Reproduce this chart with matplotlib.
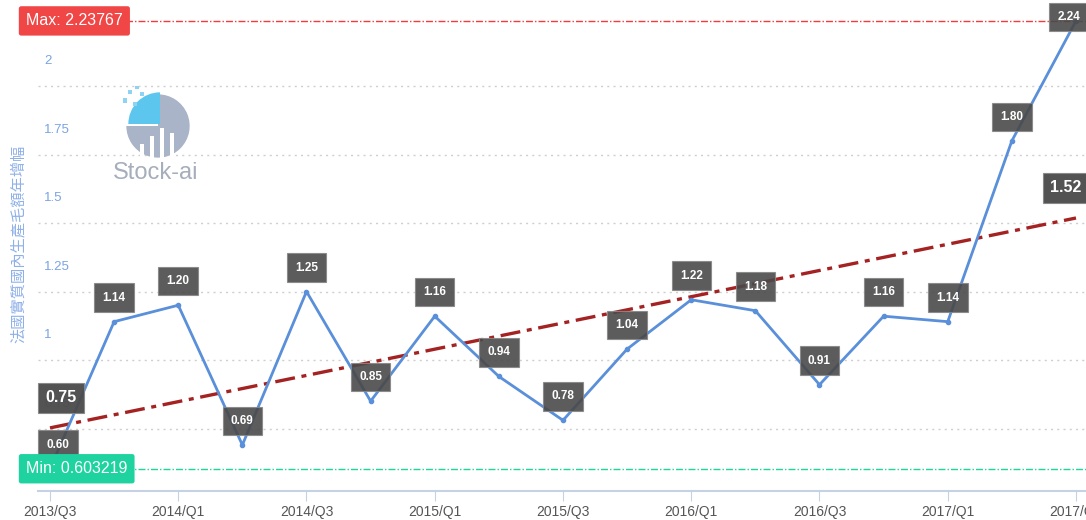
import numpy as np
import matplotlib
matplotlib.use("Agg")
import matplotlib.pyplot as plt
from matplotlib import transforms
from matplotlib.patches import Wedge, Rectangle

plt.rcParams['font.family'] = ['Liberation Sans', 'Noto Sans CJK TC']

# 資料
quarters = ["2013/Q3", "2013/Q4", "2014/Q1", "2014/Q2", "2014/Q3", "2014/Q4",
            "2015/Q1", "2015/Q2", "2015/Q3", "2015/Q4", "2016/Q1", "2016/Q2",
            "2016/Q3", "2016/Q4", "2017/Q1", "2017/Q2", "2017/Q3"]
growth = [0.603219, 1.14, 1.20, 0.69, 1.25, 0.85, 1.16, 0.94, 0.78, 1.04,
          1.22, 1.18, 0.91, 1.16, 1.14, 1.80, 2.23767]
ytick_vals = [0.75, 1.0, 1.25, 1.5, 1.75, 2.0]
ytick_labels = ["0.75", "1", "1.25", "1.5", "1.75", "2"]
ylabel = "法國實質國內生產毛額年增幅"

x = np.arange(len(quarters))
y = np.array(growth)
slope, intercept = np.polyfit(x, y, 1)
trend = slope * x + intercept
ymax, ymin = y.max(), y.min()

W, H = 1086, 520
fig = plt.figure(figsize=(W / 100, H / 100), dpi=100)
ax = fig.add_axes([38 / W, 29 / H, (W - 38) / W, 491 / H])
ax.set_xlim(-0.187, 16.156)
ax.set_ylim(0.522, 2.314)

# grid
for v in ytick_vals:
    ax.axhline(v, color='#cfcfcf', linestyle=(0, (1.5, 3)), linewidth=1, zorder=0)

# max / min lines
ax.axhline(ymax, color='#f03c3c', linestyle=(0, (5, 1.5, 1, 1.5)), linewidth=1, zorder=1)
ax.axhline(ymin, color='#20d49e', linestyle=(0, (5, 1.5, 1, 1.5)), linewidth=1, zorder=1)

# trend
ax.plot(x[[0, -1]], trend[[0, -1]], color='#a52222', linestyle=(0, (6, 2, 1.5, 2)),
        linewidth=2.4, zorder=3)

# main series
ax.plot(x, y, color='#5a8fda', linewidth=2, marker='o', markersize=3, zorder=4)

# data labels
for i, v in enumerate(y):
    if i == 0:
        off = (8, 24)
    elif i == len(y) - 1:
        off = (-7, 4)
    else:
        off = (0, 24)
    ax.annotate(f"{v:.2f}", (x[i], v), xytext=off, textcoords='offset pixels',
                ha='center', va='center', color='white', fontsize=8.5, fontweight='bold',
                bbox=dict(boxstyle='square,pad=0.7', fc='#4a4a4a', ec='#888888', lw=0.8, alpha=0.9),
                zorder=6, annotation_clip=False)

# trend end labels
for i, dx in ((0, 11), (len(x) - 1, -10)):
    ax.annotate(f"{trend[i]:.2f}", (x[i], trend[i]), xytext=(dx, 30), textcoords='offset pixels',
                ha='center', va='center', color='white', fontsize=11.5, fontweight='bold',
                bbox=dict(boxstyle='square,pad=0.45', fc='#4a4a4a', ec='#888888', lw=0.8, alpha=0.95),
                zorder=7, annotation_clip=False)

# y tick labels (drawn above the grid lines)
ytr = transforms.blended_transform_factory(ax.transAxes, ax.transData)
for v, lab in zip(ytick_vals, ytick_labels):
    ax.annotate(lab, (0.006, v), xycoords=ytr, xytext=(0, 25), textcoords='offset pixels',
                ha='left', va='center', color='#7aa3e3', fontsize=9.5, zorder=2)

# max / min tags
ftr = transforms.blended_transform_factory(fig.transFigure, ax.transData)
tag = dict(ha='left', va='center', color='white', fontsize=11.5, transform=ftr)
fig.text(26 / W, ymax, f"Max: {ymax:g}",
         bbox=dict(boxstyle='round,pad=0.45,rounding_size=0.15', fc='#f04646', ec='none'), **tag)
fig.text(26 / W, ymin, f"Min: {ymin:g}",
         bbox=dict(boxstyle='round,pad=0.45,rounding_size=0.15', fc='#1ed3a0', ec='none'), **tag)

# y label
fig.text(18 / W, 1 - 244 / H, ylabel, rotation=90, ha='center', va='center',
         color='#8fb0e8', fontsize=11, family=['Noto Sans CJK TC', 'DejaVu Sans'])

# x axis
ax.set_xticks(x[::2])
ax.set_xticklabels(quarters[::2], color='#555555', fontsize=10)
ax.tick_params(axis='x', length=7, color='#c5d2e6', pad=3)
ax.set_yticks([])
for s in ('top', 'right', 'left'):
    ax.spines[s].set_visible(False)
ax.spines['bottom'].set_color('#c5d2e6')
ax.spines['bottom'].set_linewidth(1.5)

# watermark logo
lax = fig.add_axes([118 / W, 1 - 166 / H, 80 / W, 80 / H])
lax.set_xlim(-1.2, 1.2)
lax.set_ylim(-1.2, 1.2)
lax.set_aspect('equal')
lax.axis('off')
lax.add_patch(Wedge((0, 0), 0.95, -180, 90, fc='#a9b4c8', ec='none'))
lax.add_patch(Wedge((0.06, 0.06), 0.95, 90, 180, fc='#5cc6ef', ec='none'))
for bx, bh in ((-0.55, 0.45), (-0.25, 0.7), (0.05, 0.95), (0.35, 0.8)):
    lax.add_patch(Rectangle((bx, -1.0), 0.14, bh, fc='white', ec='none'))
for sx, sy in ((-0.9, 0.95), (-0.7, 1.1), (-0.55, 0.9), (-1.05, 0.7), (-0.75, 0.6)):
    lax.add_patch(Rectangle((sx, sy), 0.13, 0.13, fc='#8fd3f4', ec='none'))
fig.text(156 / W, 1 - 173 / H, "Stock-ai", ha='center', va='center', color='#a6aebb', fontsize=17)

fig.savefig("out.png", dpi=100, facecolor='white')
